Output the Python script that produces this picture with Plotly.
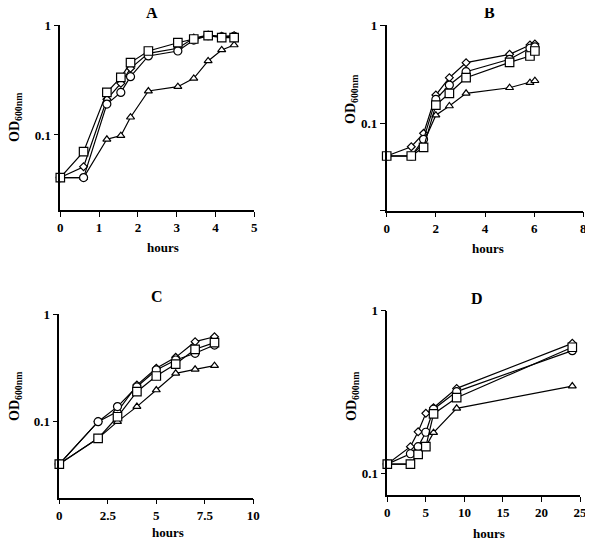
import plotly.graph_objects as go

# ---------------- data ----------------
# Panel A
xA = [0, 0.6, 1.2, 1.56, 1.81, 2.27, 3.03, 3.44, 3.81, 4.16, 4.48]
A_square = [0.041, 0.0705, 0.244, 0.334, 0.455, 0.58, 0.69, 0.746, 0.80, 0.767, 0.767]
A_circle = [0.041, 0.041, 0.191, 0.244, 0.339, 0.523, 0.58, 0.73, 0.80, 0.78, 0.79]
A_diamond = [0.041, 0.0515, 0.211, 0.295, 0.404, 0.552, 0.614, 0.76, 0.81, 0.79, 0.80]
A_triangle = [0.041, 0.041, 0.0914, 0.0986, 0.145, 0.251, 0.275, 0.327, 0.471, 0.593, 0.658]

# Panel B
xB = [0, 1.0, 1.5, 2.0, 2.55, 3.23, 5.0, 5.83, 6.03]
B_square = [0.0465, 0.0465, 0.057, 0.153, 0.202, 0.291, 0.417, 0.484, 0.544]
B_circle = [0.0465, 0.0465, 0.0687, 0.175, 0.245, 0.335, 0.448, 0.58, 0.60]
B_diamond = [0.0465, 0.0578, 0.079, 0.194, 0.291, 0.414, 0.503, 0.626, 0.641]
B_triangle = [0.0465, 0.0465, 0.063, 0.121, 0.15, 0.202, 0.23, 0.259, 0.271]

# Panel C
xC = [0, 2, 3, 4, 5, 6, 7, 8]
C_square = [0.0402, 0.0699, 0.111, 0.19, 0.266, 0.344, 0.472, 0.544]
C_circle = [0.0402, 0.0998, 0.138, 0.211, 0.303, 0.375, 0.433, 0.517]
C_diamond = [0.0402, 0.1, 0.124, 0.219, 0.314, 0.397, 0.556, 0.618]
C_triangle = [0.0402, 0.07, 0.1, 0.138, 0.197, 0.282, 0.307, 0.332]

# Panel D
xD = [0, 3, 4, 5, 6, 9, 24]
D_square = [0.114, 0.114, 0.131, 0.146, 0.232, 0.292, 0.596]
D_circle = [0.114, 0.132, 0.146, 0.179, 0.248, 0.318, 0.568]
D_diamond = [0.114, 0.146, 0.18, 0.234, 0.253, 0.333, 0.63]
D_triangle = [0.114, 0.114, 0.131, 0.146, 0.178, 0.251, 0.344]

panel_titles = ["A", "B", "C", "D"]
x_ticks = [[0, 1, 2, 3, 4, 5], [0, 2, 4, 6, 8], [0, 2.5, 5, 7.5, 10], [0, 5, 10, 15, 20, 25]]
x_ranges = [[0, 5], [0, 8], [0, 10], [0, 25]]
y_bottom_log = [-1.682, -1.889, -1.709, -1.133]
y_tickvals = [0.1, 1]
y_ticktext = ["0.1", "1"]

# ---------------- layout geometry (pixels, in the 593x541 reference frame) ----------------
# The page body adds an 8px offset, so the figure is drawn 8px smaller and shifted.
OFF = 8
W, H = 593 - OFF, 541 - OFF
boxes = [  # left, right, top, bottom in reference px
    (60.3, 254.3, 25.0, 210.0),
    (386.7, 583.3, 25.0, 210.7),
    (59.3, 253.3, 314.3, 497.7),
    (387.3, 580.0, 310.7, 495.0),
]

def fx(px):
    return (px - OFF) / W

def fy(py):
    return 1 - (py - OFF) / H

panels = [
    (xA, A_triangle, A_diamond, A_circle, A_square),
    (xB, B_triangle, B_diamond, B_circle, B_square),
    (xC, C_triangle, C_diamond, C_circle, C_square),
    (xD, D_triangle, D_diamond, D_circle, D_square),
]

FONT = "Liberation Serif"
fig = go.Figure()

styles = [
    dict(symbol="triangle-up", size=7),
    dict(symbol="diamond", size=6),
    dict(symbol="circle", size=8),
    dict(symbol="square", size=8.5),
]

for i, (xs, *series) in enumerate(panels):
    n = "" if i == 0 else str(i + 1)
    for st, ys in zip(styles, series):
        fig.add_trace(go.Scatter(
            x=xs, y=ys, mode="lines+markers",
            xaxis="x" + n, yaxis="y" + n,
            line=dict(color="black", width=1.2),
            marker=dict(symbol=st["symbol"], size=st["size"], color="white",
                        line=dict(color="black", width=1.2)),
            showlegend=False, cliponaxis=False,
        ))
    l, r, t, b = boxes[i]
    tickfont = dict(family=FONT, size=13, color="black")
    xa = dict(domain=[fx(l), fx(r)], range=x_ranges[i], anchor="y" + n,
              tickmode="array", tickvals=x_ticks[i],
              ticktext=["<b>%g</b>" % v for v in x_ticks[i]],
              showline=True, linecolor="black", linewidth=1.5,
              ticks="outside", ticklen=5, tickwidth=1.2, tickcolor="black",
              showgrid=False, zeroline=False, automargin=False,
              tickfont=tickfont)
    yvals = list(y_tickvals)
    ytext = ["<b>%s</b>" % s for s in y_ticktext]
    if i == 1:
        yvals = [10 ** y_bottom_log[i]] + yvals
        ytext = [" "] + ytext
    ya = dict(domain=[fy(b), fy(t)], type="log", range=[y_bottom_log[i], 0],
              anchor="x" + n, tickmode="array", tickvals=yvals, ticktext=ytext,
              showline=True, linecolor="black", linewidth=1.5,
              ticks="outside", ticklen=5, tickwidth=1.2, tickcolor="black",
              showgrid=False, zeroline=False, automargin=False,
              tickfont=tickfont)
    fig.layout["xaxis" + n] = xa
    fig.layout["yaxis" + n] = ya

title_pos = [(152, 12.5), (489, 12.5), (157, 296), (477, 298)]
hours_pos = [(163, 247), (488, 248), (168, 532), (489, 533)]
od_pos = [(15, 118), (352, 100), (15, 397), (352, 397)]

ann = []
for i in range(4):
    tx, ty = title_pos[i]
    ann.append(dict(x=fx(tx), y=fy(ty), xref="paper", yref="paper",
                    xanchor="center", yanchor="middle",
                    text="<b>%s</b>" % panel_titles[i], showarrow=False,
                    font=dict(family=FONT, size=16, color="black")))
    hx, hy = hours_pos[i]
    ann.append(dict(x=fx(hx), y=fy(hy), xref="paper", yref="paper",
                    xanchor="center", yanchor="middle",
                    text="<b>hours</b>", showarrow=False,
                    font=dict(family=FONT, size=13, color="black")))
    ox, oy = od_pos[i]
    ann.append(dict(x=fx(ox), y=fy(oy), xref="paper", yref="paper",
                    xanchor="center", yanchor="middle",
                    text="<b>OD<sub>600nm</sub></b>", showarrow=False, textangle=-90,
                    font=dict(family=FONT, size=14, color="black")))

fig.update_layout(
    template="none",
    width=W, height=H,
    margin=dict(l=0, r=0, t=0, b=0, pad=0),
    paper_bgcolor="white", plot_bgcolor="white",
    font=dict(family=FONT, color="black"),
    annotations=ann,
    showlegend=False,
)

fig.write_html("out.html")
